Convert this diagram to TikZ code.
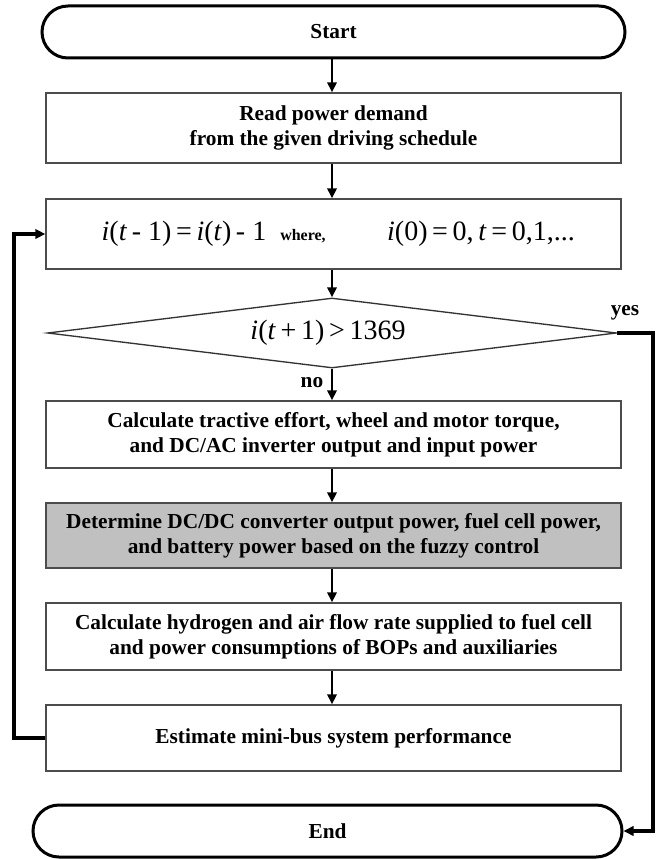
\documentclass[tikz,border=0pt]{standalone}
\usepackage{fontspec}
\setmainfont{Liberation Serif}
\usetikzlibrary{shapes.geometric,shapes.misc,arrows.meta}
\tikzset{
  txt/.style={font=\bfseries\fontsize{16}{18.75}\selectfont, align=center},
  term/.style={rounded rectangle, draw=black, line width=2.25pt, inner sep=0pt,
    minimum height=39pt, txt},
  proc/.style={rectangle, draw=black!70, line width=1pt, inner sep=0pt,
    minimum width=431.25pt, txt},
  dec/.style={diamond, draw=black!80, line width=1pt, inner sep=0pt,
    minimum width=426.75pt, minimum height=52.5pt},
  flow/.style={line width=1.6pt, -{Triangle[length=7.5pt,width=7pt]}},
  loopline/.style={line width=2.4pt, -{Triangle[length=7.5pt,width=7pt]}},
  lbl/.style={font=\bfseries\fontsize{16}{18.75}\selectfont},
  mathtxt/.style={font=\fontsize{21}{24}\selectfont, inner sep=0pt},
  smalltxt/.style={font=\bfseries\fontsize{12}{14}\selectfont, inner sep=0pt}
}
\begin{document}
\begin{tikzpicture}[x=0.75pt,y=-0.75pt]
\useasboundingbox (0,0) rectangle (660,859);
\node[term, minimum width=437.25pt] (start) at (333.5,32) {Start};
\node[proc, minimum height=52.5pt] (read) at (333.5,128) {Read power demand\\from the given driving schedule};
\node[proc, minimum height=52.5pt] (loop) at (333.5,234) {};
\node[mathtxt] (f1) at (184,234) {\textit{i}(\textit{t}\,- 1)\,=\,\textit{i}(\textit{t})\,- 1};
\node[smalltxt] (wh) at (303,236) {where,};
\node[mathtxt] (f2) at (481,234) {\textit{i}(0)\,=\,0,\,\textit{t}\,=\,0,1,...};
\node[dec] (dec) at (332,333) {};
\node[mathtxt] (cond) at (328,333) {\textit{i}(\textit{t}\,+\,1)\,>\,1369};
\node[proc, minimum height=50.25pt] (calc) at (333.5,434.5) {Calculate tractive effort, wheel and motor torque,\\and DC/AC inverter output and input power};
\node[proc, minimum height=48.75pt, fill={rgb,255:red,192;green,192;blue,192}] (fuzzy) at (333.5,535.5) {Determine DC/DC converter output power, fuel cell power,\\and battery power based on the fuzzy control};
\node[proc, minimum height=50.25pt] (hydro) at (333.5,636.5) {Calculate hydrogen and air flow rate supplied to fuel cell\\and power consumptions of BOPs and auxiliaries};
\node[proc, minimum height=49.5pt] (est) at (333.5,738) {Estimate mini-bus system performance};
\node[term, minimum width=441.75pt] (end) at (327.5,831) {End};
\node[lbl] (yes) at (625,313) {yes};
\node[lbl] (no) at (312,383) {no};
\coordinate (fbx) at (14,0);
\coordinate (yx) at (653,0);
\coordinate (ax) at (332,0);
\draw[flow] (ax |- start.south) -- (ax |- read.north);
\draw[flow] (ax |- read.south) -- (ax |- loop.north);
\draw[flow] (ax |- loop.south) -- (dec.north);
\draw[flow] (dec.south) -- (ax |- calc.north);
\draw[flow] (ax |- calc.south) -- (ax |- fuzzy.north);
\draw[flow] (ax |- fuzzy.south) -- (ax |- hydro.north);
\draw[flow] (ax |- hydro.south) -- (ax |- est.north);
\draw[loopline] (est.west) -- (fbx |- est.west) |- (loop.west);
\draw[loopline] (dec.east) -- (yx |- dec.east) |- (end.east);
\end{tikzpicture}
\end{document}
